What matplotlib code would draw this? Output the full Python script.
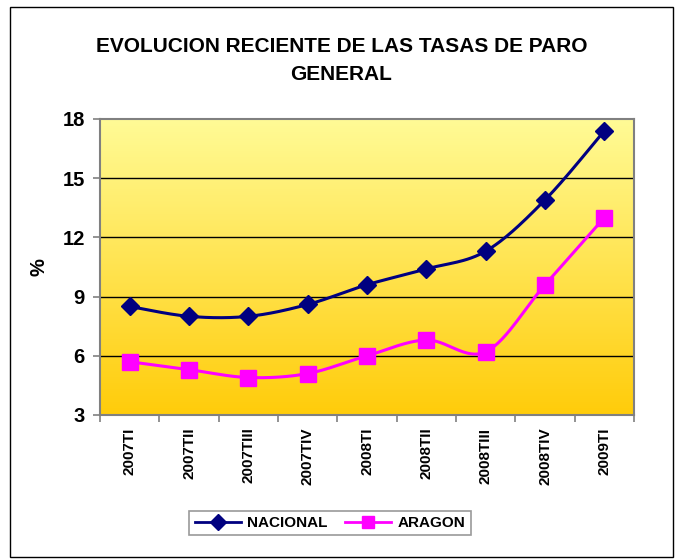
import numpy as np
import matplotlib
matplotlib.use("Agg")
import matplotlib.pyplot as plt
from matplotlib.patches import Rectangle
from matplotlib.lines import Line2D

plt.rcParams['font.family'] = ['Liberation Sans', 'DejaVu Sans']

categories = ["2007TI", "2007TII", "2007TIII", "2007TIV", "2008TI",
              "2008TII", "2008TIII", "2008TIV", "2009TI"]
nacional = [8.5, 8.0, 8.0, 8.6, 9.6, 10.4, 11.3, 13.9, 17.4]
aragon = [5.7, 5.3, 4.9, 5.1, 6.0, 6.8, 6.2, 9.6, 13.0]
y_ticks = [3, 6, 9, 12, 15, 18]

W, H = 683, 559
fig = plt.figure(figsize=(W / 100, H / 100), dpi=100)

# outer chart frame
fig.patches.append(Rectangle((10 / W, 2 / H), 663 / W, 550 / H,
                             transform=fig.transFigure, fill=False,
                             edgecolor='black', linewidth=1.0, zorder=0))

ax_l, ax_r, ax_t, ax_b = 100, 634, 119, 415
ax = fig.add_axes([ax_l / W, 1 - ax_b / H, (ax_r - ax_l) / W, (ax_b - ax_t) / H])

n = len(categories)
x = np.arange(n)
ax.set_xlim(-0.5, n - 0.5)
ax.set_ylim(3, 18)

# vertical gradient fill of the plot area
top = np.array([255, 251, 150]) / 255
bot = np.array([255, 204, 10]) / 255
t = np.linspace(0, 1, 256)[:, None]
grad = (top * (1 - t) + bot * t)[:, None, :]
ax.imshow(grad, extent=(-0.5, n - 0.5, 3, 18), aspect='auto', origin='upper', zorder=0)

for yv in y_ticks[1:-1]:
    ax.axhline(yv, color='black', linewidth=1.0, zorder=1)


def smooth(xs, ys, steps=30):
    """Bezier smoothing through the points (Catmull-Rom style control points)."""
    xs = np.asarray(xs, float)
    ys = np.asarray(ys, float)
    px = np.concatenate([[xs[0]], xs, [xs[-1]]])
    py = np.concatenate([[ys[0]], ys, [ys[-1]]])
    out_x, out_y = [], []
    u = np.linspace(0, 1, steps)
    for i in range(1, len(px) - 2):
        p0 = np.array([px[i], py[i]])
        p3 = np.array([px[i + 1], py[i + 1]])
        c1 = p0 + (np.array([px[i + 1], py[i + 1]]) - np.array([px[i - 1], py[i - 1]])) / 6
        c2 = p3 - (np.array([px[i + 2], py[i + 2]]) - np.array([px[i], py[i]])) / 6
        b = ((1 - u) ** 3)[:, None] * p0 + (3 * (1 - u) ** 2 * u)[:, None] * c1 \
            + (3 * (1 - u) * u ** 2)[:, None] * c2 + (u ** 3)[:, None] * p3
        out_x.extend(b[:, 0])
        out_y.extend(b[:, 1])
    return out_x, out_y


navy = '#000080'
magenta = '#FF00FF'

sx, sy = smooth(x, nacional)
ax.plot(sx, sy, color=navy, linewidth=2.2, zorder=3)
ax.plot(x, nacional, linestyle='none', marker='D', markersize=9.5,
        color=navy, zorder=4)

sx, sy = smooth(x, aragon)
ax.plot(sx, sy, color=magenta, linewidth=2.2, zorder=3)
ax.plot(x, aragon, linestyle='none', marker='s', markersize=12,
        color=magenta, zorder=4)

for s in ax.spines.values():
    s.set_color('#808080')
    s.set_linewidth(1.5)

ax.set_yticks(y_ticks)
ax.set_yticklabels([str(v) for v in y_ticks], fontsize=14.5, fontweight='bold')
ax.set_xticks(np.arange(-0.5, n, 1.0))
ax.set_xticklabels([])
ax.set_xticks(x, minor=True)
ax.set_xticklabels(categories, minor=True, rotation=90, fontsize=11,
                   fontweight='bold')
ax.tick_params(axis='x', which='minor', length=0, pad=9)
ax.tick_params(axis='x', which='major', length=5, color='#808080', width=1.2)
ax.tick_params(axis='y', length=5, color='#808080', width=1.2, pad=6)
ax.set_ylabel('%', fontsize=14.5, fontweight='bold', labelpad=10)

fig.text(0.5, 1 - 47 / H, 'EVOLUCION RECIENTE DE LAS TASAS DE PARO',
         ha='center', va='center', fontsize=15, fontweight='bold')
fig.text(0.5, 1 - 74 / H, 'GENERAL',
         ha='center', va='center', fontsize=15, fontweight='bold')

handles = [
    Line2D([], [], color=navy, linewidth=2, marker='D', markersize=8),
    Line2D([], [], color=magenta, linewidth=2, marker='s', markersize=9),
]
leg = fig.legend(handles, ['NACIONAL', 'ARAGON'], ncol=2,
                 loc='center', bbox_to_anchor=(330 / W, 1 - 523 / H),
                 prop={'weight': 'bold', 'size': 11}, frameon=True,
                 fancybox=False, edgecolor='#808080', handlelength=3.0,
                 handletextpad=0.4, columnspacing=1.2, borderpad=0.35)
leg.get_frame().set_linewidth(1.2)

fig.savefig('out.png', dpi=100)
